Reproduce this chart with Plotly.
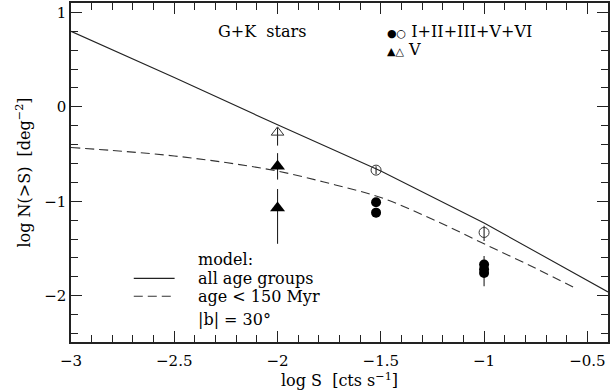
import plotly.graph_objects as go

# model curves
model_all_x = [-3.0, -2.5, -2.0, -1.5, -1.0, -0.4]
model_all_y = [0.80, 0.31, -0.19, -0.68, -1.23, -1.96]
model_young_x = [-3.0, -2.75, -2.5, -2.25, -2.0, -1.75, -1.5, -1.25, -1.0, -0.75, -0.55]
model_young_y = [-0.43, -0.47, -0.52, -0.59, -0.68, -0.81, -0.96, -1.19, -1.45, -1.71, -1.93]

# data: all luminosity classes (circles)
open_circ_x = [-1.523, -1.0]
open_circ_y = [-0.67, -1.33]
open_circ_eplus = [0.04, 0.07]
open_circ_eminus = [0.04, 0.09]
fill_circ_x = [-1.523, -1.523, -1.0, -1.0, -1.0]
fill_circ_y = [-1.01, -1.12, -1.67, -1.72, -1.76]
fill_circ_eplus = [0.04, 0.04, 0.09, 0.05, 0.05]
fill_circ_eminus = [0.04, 0.05, 0.05, 0.05, 0.14]

# data: class V (triangles)
open_tri_x = [-2.0]
open_tri_y = [-0.27]
open_tri_eplus = [0.05]
open_tri_eminus = [0.14]
fill_tri_x = [-2.0, -2.0]
fill_tri_y = [-0.63, -1.07]
fill_tri_eplus = [0.14, 0.20]
fill_tri_eminus = [0.14, 0.38]

FONT = "DejaVu Serif"
fig = go.Figure()

fig.add_trace(go.Scatter(x=model_all_x, y=model_all_y, mode="lines",
                         line=dict(color="#222", width=1.1), showlegend=False))
fig.add_trace(go.Scatter(x=model_young_x, y=model_young_y, mode="lines", line_shape="spline",
                         line=dict(color="#333", width=1.1, dash="9px,5px"), showlegend=False))

def err(p, m):
    return dict(type="data", symmetric=False, array=p, arrayminus=m,
                width=0, thickness=1.1, color="#222")

fig.add_trace(go.Scatter(x=fill_tri_x, y=fill_tri_y, mode="markers",
                         error_y=err(fill_tri_eplus, fill_tri_eminus),
                         marker=dict(symbol="triangle-up", size=13, color="black"),
                         showlegend=False))
fig.add_trace(go.Scatter(x=open_tri_x, y=open_tri_y, mode="markers",
                         error_y=err(open_tri_eplus, open_tri_eminus),
                         marker=dict(symbol="triangle-up-open", size=11, color="#333",
                                     line=dict(width=1)),
                         showlegend=False))
fig.add_trace(go.Scatter(x=fill_circ_x, y=fill_circ_y, mode="markers",
                         error_y=err(fill_circ_eplus, fill_circ_eminus),
                         marker=dict(symbol="circle", size=10, color="black"),
                         showlegend=False))
fig.add_trace(go.Scatter(x=open_circ_x, y=open_circ_y, mode="markers",
                         error_y=err(open_circ_eplus, open_circ_eminus),
                         marker=dict(symbol="circle-open", size=10, color="#333",
                                     line=dict(width=1)),
                         showlegend=False))

axis_common = dict(showgrid=False, zeroline=False, showline=True, linecolor="#222",
                   linewidth=1.5, mirror="ticks", ticks="inside", ticklen=11,
                   tickwidth=1.1, tickcolor="#222",
                   tickfont=dict(family=FONT, size=15, color="black"))

fig.update_xaxes(range=[-3, -0.4], tick0=-3, dtick=0.5,
                 minor=dict(dtick=0.1, ticks="inside", ticklen=7, tickcolor="#222", tickwidth=1),
                 ticklabelstandoff=4,
                 title=dict(text="log S  [cts s<sup>−1</sup>]", standoff=6,
                            font=dict(family=FONT, size=16, color="black")),
                 **axis_common)
fig.update_yaxes(range=[-2.49, 1.1], tick0=-2, dtick=1,
                 minor=dict(dtick=0.2, ticks="inside", ticklen=7, tickcolor="#222", tickwidth=1),
                 title=dict(text="log N(>S)  [deg<sup>−2</sup>]", standoff=10,
                            font=dict(family=FONT, size=16, color="black")),
                 **axis_common)

def txt(x, y, s, size=16, anchor="left"):
    fig.add_annotation(x=x, y=y, xref="paper", yref="paper", text=s, showarrow=False,
                       xanchor=anchor, yanchor="middle",
                       font=dict(family=FONT, size=size, color="black"))

W, H = 611, 392
L, R, T, B = 71, 1, 1, 50
pw, ph = W - L - R, H - T - B
def px(xp): return (xp - L) / pw
def py(yp): return 1 - (yp - T) / ph

txt(px(217), py(30), "G+K  stars")
txt(px(386), py(30), "<span style='font-size:11px'>●○</span> I+II+III+V+VI")
txt(px(386), py(48), "<span style='font-size:11px'>▲△</span> V")
txt(px(196), py(259), "model:")
txt(px(196), py(278), "all age groups")
txt(px(196), py(296), "age < 150 Myr")
txt(px(196), py(319), "|b| = 30°")

fig.add_shape(type="line", xref="paper", yref="paper", x0=px(134), x1=px(175),
              y0=py(278), y1=py(278), line=dict(color="#222", width=1.1))
fig.add_shape(type="line", xref="paper", yref="paper", x0=px(134), x1=px(175),
              y0=py(296), y1=py(296), line=dict(color="#333", width=1.1, dash="9px,5px"))

fig.update_layout(width=W, height=H, margin=dict(l=L, r=R, t=T, b=B),
                  plot_bgcolor="white", paper_bgcolor="white")
fig.write_html("out.html", config={"displayModeBar": False},
               post_script="document.body.style.margin='0';")
